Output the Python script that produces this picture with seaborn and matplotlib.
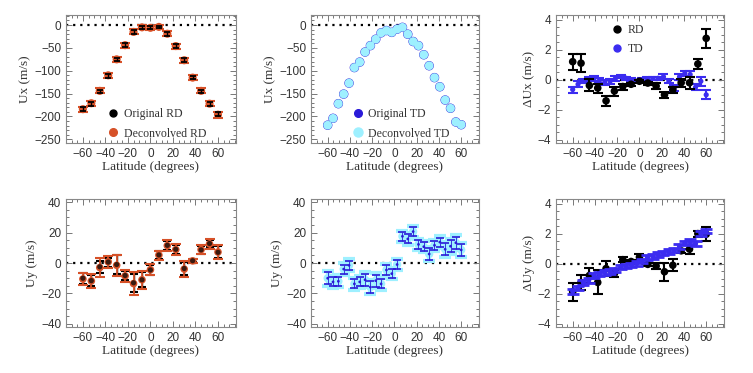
import numpy as np
import pandas as pd
import matplotlib
matplotlib.use("Agg")
import matplotlib.pyplot as plt
from matplotlib.ticker import MultipleLocator
from matplotlib.lines import Line2D
import seaborn as sns

# Latitude grids
lat_rd = [-60, -52.5, -45, -37.5, -30, -22.5, -15, -7.5, 0, 7.5, 15, 22.5, 30, 37.5, 45, 52.5, 60]
lat_td = [-60, -55.2, -50.4, -45.6, -40.8, -36, -31.2, -26.4, -21.6, -16.8, -12, -7.2, -2.4,
          2.4, 7.2, 12, 16.8, 21.6, 26.4, 31.2, 36, 40.8, 45.6, 50.4, 55.2, 60]

# Ux, RD
ux_rd_orig = [-184, -172, -145, -111, -75, -44, -15, -5, -6, -4, -19, -46, -77, -115, -145, -172, -195]
ux_rd_dec = [-184, -171, -144, -110, -75, -44, -15, -5, -6, -4, -19, -46, -77, -115, -144, -172, -196]
ux_rd_err = [4, 4, 4, 4, 4, 4, 4, 3, 3, 3, 4, 4, 4, 4, 4, 4, 5]

# Ux, TD
ux_td_orig = [-219, -204, -172, -151, -127, -93, -81, -59, -45, -31, -17, -12, -16,
              -9, -5, -20, -36, -45, -65, -89, -115, -135, -164, -182, -212, -218]
ux_td_dec = ux_td_orig

# Delta Ux
dux_rd = [1.2, 1.1, -0.38, -0.55, -1.4, -0.75, -0.45, -0.3, -0.1, -0.22, -0.42, -1.0, -0.65, -0.2, -0.2, 1.05, 2.75]
dux_rd_err = [0.54, 0.6, 0.4, 0.3, 0.35, 0.3, 0.2, 0.1, 0.1, 0.1, 0.2, 0.2, 0.2, 0.25, 0.4, 0.35, 0.62]
dux_td = [-0.65, -0.3, -0.07, 0.05, 0.1, -0.05, -0.18, -0.1, 0.08, 0.2, 0.1, 0.0, -0.1,
          0.0, 0.05, 0.08, 0.1, 0.2, -0.08, -0.55, 0.2, 0.42, 0.35, -0.5, -0.1, -1.0]
dux_td_err = [0.2, 0.2, 0.15, 0.15, 0.15, 0.15, 0.15, 0.15, 0.15, 0.1, 0.1, 0.1, 0.1,
              0.1, 0.1, 0.1, 0.1, 0.15, 0.15, 0.2, 0.2, 0.15, 0.2, 0.2, 0.3, 0.3]

# Uy, RD
uy_rd_orig = [-10, -11.6, -2.5, 0.6, -1, -8.2, -13, -11, -4.6, 5.3, 11.6, 9, -3.6, 1.5, 8.6, 12.8, 7]
uy_rd_dec = [-10.5, -11.8, -3, 0.8, -1.5, -8.5, -13.5, -11, -4.4, 5.2, 11.4, 8.8, -4, 1.4, 8.8, 12.5, 7.2]
uy_rd_err_orig = [3.5, 3.5, 4, 3, 6.5, 3, 6, 5, 3, 2.5, 3, 3, 4.5, 1, 2.5, 2.5, 4]
uy_rd_err_dec = [4, 4.5, 6, 4, 7, 4, 7.5, 6, 3.5, 3, 3.5, 3.5, 5, 1.2, 3, 3.5, 4.5]

# Uy, TD
uy_td_orig = [-10, -12.4, -12, -4, -1.5, -13.7, -12.4, -11, -15.8, -11.6, -13.7, -4.6, -7,
              -1, 17.5, 15.8, 20.6, 12.2, 10.7, 5.9, 11.6, 13.7, 9, 11, 13.3, 8.6]
uy_td_dec = uy_td_orig
uy_td_err = [4, 3, 3, 3, 3, 3, 3, 4, 4, 4, 3, 3, 3, 3, 3, 3, 3, 3, 3, 4, 3, 3, 4, 4, 4, 4]

# Delta Uy
duy_rd = [-1.87, -1.24, -0.78, -1.24, -0.32, -0.65, 0.27, 0.15, 0.44, -0.04, -0.15, -0.53, -0.1, 0.86, 0.97, 2.0, 1.96]
duy_rd_err = [0.6, 0.5, 0.5, 0.8, 0.5, 0.25, 0.15, 0.1, 0.2, 0.1, 0.2, 0.6, 0.4, 0.15, 0.3, 0.2, 0.45]
duy_td = [-1.83, -1.6, -1.24, -1.1, -0.78, -0.67, -0.57, -0.53, -0.4, -0.2, -0.15, -0.08, 0.02,
          0.17, 0.42, 0.48, 0.6, 0.7, 0.8, 0.9, 1.16, 1.37, 1.47, 1.33, 2.02, 2.17]
duy_td_err = [0.15] * 26

ORANGE = "#d65128"
BLUE = "#3b2cf0"
DBLUE = "#2a1ad8"
CYAN = "#9ef0ff"
GREY = "#333333"

sns.set_style("ticks")
plt.rcParams["font.family"] = ["Liberation Sans", "DejaVu Sans"]

fig = plt.figure(figsize=(7.53, 3.73), dpi=100)
H = 128 / 373
pos = {
    (0, 0): [66 / 753, 1 - 143 / 373, 170 / 753, H],
    (0, 1): [311 / 753, 1 - 143 / 373, 168 / 753, H],
    (0, 2): [556 / 753, 1 - 143 / 373, 168 / 753, H],
    (1, 0): [66 / 753, 1 - 327 / 373, 170 / 753, H],
    (1, 1): [311 / 753, 1 - 327 / 373, 168 / 753, H],
    (1, 2): [556 / 753, 1 - 327 / 373, 168 / 753, H],
}
axes = {k: fig.add_axes(v) for k, v in pos.items()}

lab_font = dict(family="Liberation Serif", fontsize=9.5, color=GREY)


def style(ax, ylim, ymaj, ymin, ylabel):
    ax.set_xlim(-75, 76)
    ax.set_ylim(*ylim)
    ax.xaxis.set_major_locator(MultipleLocator(20))
    ax.xaxis.set_minor_locator(MultipleLocator(5))
    ax.yaxis.set_major_locator(MultipleLocator(ymaj))
    ax.yaxis.set_minor_locator(MultipleLocator(ymin))
    ax.tick_params(which="both", direction="in", top=True, right=True, colors="#777777",
                   labelcolor=GREY, labelsize=8.5, width=0.7)
    ax.tick_params(which="major", length=4)
    ax.tick_params(which="minor", length=2)
    for s in ax.spines.values():
        s.set_color("#888888")
        s.set_linewidth(0.8)
    ax.axhline(0, color="black", ls=(0, (1, 2.2)), lw=1.6, zorder=0)
    ax.set_xlabel("Latitude (degrees)", labelpad=1, **lab_font)
    ax.set_ylabel(ylabel, labelpad=2, **lab_font)


def legend(ax, entries, anchor):
    handles = [Line2D([], [], ls="none", marker="o", ms=ms, color=c) for _, c, ms in entries]
    leg = ax.legend(handles, [e[0] for e in entries], loc="upper left", bbox_to_anchor=anchor,
                    frameon=False, handletextpad=0.3, labelspacing=0.6, borderpad=0,
                    borderaxespad=0, handlelength=1.2,
                    prop=dict(family="Liberation Serif", size=8.5))
    for t in leg.get_texts():
        t.set_color(GREY)


# ---- Ux RD
ax = axes[(0, 0)]
df = pd.DataFrame({"lat": lat_rd, "orig": ux_rd_orig, "dec": ux_rd_dec, "err": ux_rd_err})
ax.errorbar(df.lat, df.dec, yerr=df.err + 1.5, fmt="none", ecolor=ORANGE, elinewidth=1.5, capsize=3.5, capthick=1.5, zorder=2)
sns.scatterplot(data=df, x="lat", y="dec", ax=ax, color=ORANGE, s=34, edgecolor="none", zorder=3)
ax.errorbar(df.lat, df.orig, yerr=df.err, fmt="none", ecolor="black", elinewidth=1, capsize=2.5, capthick=1.3, zorder=4)
style(ax, (-258, 22), 50, 10, "Ux (m/s)")
legend(ax, [("Original RD", "black", 5), ("Deconvolved RD", ORANGE, 5.5)], (0.235, 0.27))

# ---- Ux TD
ax = axes[(0, 1)]
df = pd.DataFrame({"lat": lat_td, "orig": ux_td_orig, "dec": ux_td_dec})
sns.scatterplot(data=df, x="lat", y="orig", ax=ax, color=DBLUE, s=46, edgecolor="none", zorder=2)
sns.scatterplot(data=df, x="lat", y="dec", ax=ax, color=CYAN, s=40, marker="o", edgecolor="none", zorder=3)
style(ax, (-258, 22), 50, 10, "Ux (m/s)")
legend(ax, [("Original TD", DBLUE, 5.5), ("Deconvolved TD", CYAN, 6.5)], (0.235, 0.27))

# ---- Delta Ux
ax = axes[(0, 2)]
td = pd.DataFrame({"lat": lat_td, "v": dux_td, "err": dux_td_err})
rd = pd.DataFrame({"lat": lat_rd, "v": dux_rd, "err": dux_rd_err})
ax.errorbar(td.lat, td.v, yerr=td.err, fmt="none", ecolor=BLUE, elinewidth=1.5, capsize=3.5, capthick=1.5, zorder=2)
sns.scatterplot(data=td, x="lat", y="v", ax=ax, color=BLUE, s=14, edgecolor="none", zorder=2)
ax.errorbar(rd.lat, rd.v, yerr=rd.err, fmt="none", ecolor="black", elinewidth=1.5, capsize=3.5, capthick=1.5, zorder=3)
sns.scatterplot(data=rd, x="lat", y="v", ax=ax, color="black", s=30, edgecolor="none", zorder=3)
style(ax, (-4.2, 4.3), 2, 0.5, "\u0394Ux (m/s)")
legend(ax, [("RD", "black", 5), ("TD", BLUE, 5)], (0.32, 0.93))

# ---- Uy RD
ax = axes[(1, 0)]
df = pd.DataFrame({"lat": lat_rd, "orig": uy_rd_orig, "dec": uy_rd_dec,
                   "eo": uy_rd_err_orig, "ed": uy_rd_err_dec})
ax.errorbar(df.lat, df.orig, yerr=df.eo, fmt="none", ecolor="black", elinewidth=1, capsize=3.2, capthick=1.5, zorder=2)
ax.errorbar(df.lat, df.dec, yerr=df.ed, fmt="none", ecolor=ORANGE, elinewidth=1.3, capsize=3.5, capthick=1.5, zorder=3)
sns.scatterplot(data=df, x="lat", y="dec", ax=ax, color=ORANGE, s=30, edgecolor="none", zorder=4)
sns.scatterplot(data=df, x="lat", y="orig", ax=ax, color="#3a1a10", s=14, edgecolor="none", zorder=5)
style(ax, (-42, 42), 20, 5, "Uy (m/s)")

# ---- Uy TD
ax = axes[(1, 1)]
df = pd.DataFrame({"lat": lat_td, "orig": uy_td_orig, "dec": uy_td_dec, "err": uy_td_err})
ax.errorbar(df.lat, df.dec, yerr=df.err + 0.8, fmt="none", ecolor=CYAN, elinewidth=3, capsize=4.5, capthick=3, zorder=2)
sns.scatterplot(data=df, x="lat", y="dec", ax=ax, color=CYAN, s=36, edgecolor="none", zorder=3)
ax.errorbar(df.lat, df.orig, yerr=df.err, fmt="none", ecolor=DBLUE, elinewidth=0.6, capsize=3, capthick=1.2, zorder=4)
sns.scatterplot(data=df, x="lat", y="orig", ax=ax, color=DBLUE, s=4, edgecolor="none", zorder=5)
style(ax, (-42, 42), 20, 5, "Uy (m/s)")

# ---- Delta Uy
ax = axes[(1, 2)]
td = pd.DataFrame({"lat": lat_td, "v": duy_td, "err": duy_td_err})
rd = pd.DataFrame({"lat": lat_rd, "v": duy_rd, "err": duy_rd_err})
ax.errorbar(rd.lat, rd.v, yerr=rd.err, fmt="none", ecolor="black", elinewidth=1.5, capsize=3.5, capthick=1.5, zorder=2)
sns.scatterplot(data=rd, x="lat", y="v", ax=ax, color="black", s=30, edgecolor="none", zorder=2)
ax.errorbar(td.lat, td.v, yerr=td.err, fmt="none", ecolor=BLUE, elinewidth=1.5, capsize=4, capthick=2, zorder=3)
sns.scatterplot(data=td, x="lat", y="v", ax=ax, color=BLUE, s=14, edgecolor="none", zorder=3)
style(ax, (-4.2, 4.3), 2, 0.5, "\u0394Uy (m/s)")

fig.savefig("out.png", dpi=100)
